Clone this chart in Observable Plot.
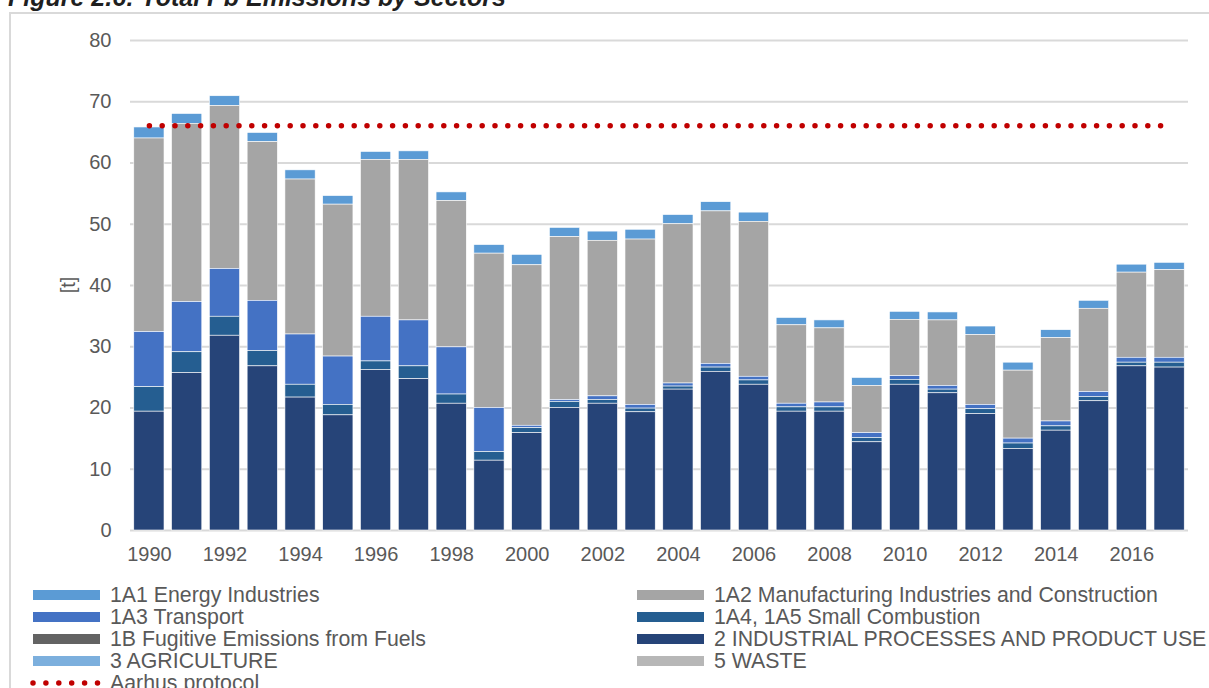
<!DOCTYPE html>
<html>
<head>
<meta charset="utf-8">
<script src="https://cdn.jsdelivr.net/npm/d3@7"></script>
<script src="https://cdn.jsdelivr.net/npm/@observablehq/plot@0.6"></script>
<style>
  html, body { margin: 0; padding: 0; background: #fff; overflow: hidden; }
  body { width: 1209px; height: 688px; position: relative; font-family: "Liberation Sans", Arial, sans-serif; }
  #title { position: absolute; left: 8px; top: -15px; font-size: 25px; font-weight: bold; font-style: italic; color: #1f1f1f; white-space: nowrap; line-height: 1; }
  #frame { position: absolute; left: 9px; top: 12px; width: 1300px; height: 800px; border-left: 2px solid #d9d9d9; border-top: 2px solid #d9d9d9; }
  #chart { position: absolute; left: 0; top: 0; }
  #ylabel { position: absolute; left: 68px; top: 285px; transform: translate(-50%, -50%) rotate(-90deg); font-size: 20px; color: #595959; }
  .leg { position: absolute; height: 22px; line-height: 22px; font-size: 21.3px; color: #595959; white-space: nowrap; }
  .sw { position: absolute; width: 67px; height: 10px; }
  .lt { position: absolute; }
</style>
</head>
<body>
<div id="title">Figure 2.6: Total Pb Emissions by Sectors</div>
<div id="frame"></div>
<div id="chart"></div>
<div id="ylabel">[t]</div>
<div id="legend"></div>
<script>
const years = [1990,1991,1992,1993,1994,1995,1996,1997,1998,1999,2000,2001,2002,2003,2004,2005,2006,2007,2008,2009,2010,2011,2012,2013,2014,2015,2016,2017];
const yTicks = [0,10,20,30,40,50,60,70,80];

const energyIndustries = [1.8,1.6,1.6,1.5,1.5,1.4,1.3,1.4,1.4,1.4,1.7,1.5,1.5,1.6,1.5,1.5,1.5,1.2,1.3,1.3,1.3,1.3,1.4,1.3,1.3,1.3,1.3,1.2];
const manufacturing = [31.6,29.1,26.6,25.9,25.3,24.8,25.6,26.2,23.9,25.2,26.2,26.6,25.4,27.0,26.0,24.9,25.3,12.8,12.1,7.7,9.2,10.7,11.4,11.1,13.6,13.6,13.9,14.3];
const transport = [9.0,8.2,7.8,8.2,8.2,7.9,7.3,7.5,7.7,7.2,0.4,0.3,0.6,0.6,0.5,0.6,0.6,0.6,0.8,0.8,0.6,0.6,0.7,0.8,0.8,0.8,0.8,0.8];
const smallCombustion = [4.0,3.4,3.1,2.5,2.1,1.7,1.4,2.1,1.5,1.4,0.8,1.0,0.6,0.6,0.5,0.7,0.7,0.7,0.7,0.7,0.8,0.6,0.8,0.9,0.7,0.7,0.6,0.8];
const fugitive = [0,0,0,0,0,0,0,0,0,0,0,0,0,0,0,0,0,0,0,0,0,0,0,0,0,0,0,0];
const industrialProcesses = [19.4,25.7,31.8,26.8,21.7,18.8,26.2,24.7,20.7,11.4,15.9,20.0,20.7,19.3,23.0,25.9,23.8,19.4,19.4,14.4,23.8,22.4,19.0,13.3,16.3,21.1,26.8,26.6];
const agriculture = [0,0,0,0,0,0,0,0,0,0,0,0,0,0,0,0,0,0,0,0,0,0,0,0,0,0,0,0];
const waste = [0,0,0,0,0,0,0,0,0,0,0,0,0,0,0,0,0,0,0,0,0,0,0,0,0,0,0,0];
const aarhusProtocol = 66.1;

const seriesNames = ["1A1 Energy Industries","1A2 Manufacturing Industries and Construction","1A3 Transport","1A4, 1A5 Small Combustion","1B Fugitive Emissions from Fuels","2 INDUSTRIAL PROCESSES AND PRODUCT USE","3 AGRICULTURE","5 WASTE"];
const seriesColors = ["#5b9bd5","#a5a5a5","#4472c4","#255e91","#636363","#264478","#7cafdd","#b7b7b7"];
const seriesValues = [energyIndustries, manufacturing, transport, smallCombustion, fugitive, industrialProcesses, agriculture, waste];
// bottom-to-top stacking order
const stackOrder = ["2 INDUSTRIAL PROCESSES AND PRODUCT USE","1B Fugitive Emissions from Fuels","1A4, 1A5 Small Combustion","1A3 Transport","1A2 Manufacturing Industries and Construction","1A1 Energy Industries","3 AGRICULTURE","5 WASTE"];

const rows = [];
seriesNames.forEach((name, s) => years.forEach((yr, i) => rows.push({year: yr, sector: name, value: seriesValues[s][i]})));
const aarhus = years.map(yr => ({year: yr, value: aarhusProtocol}));

const chart = Plot.plot({
  width: 1209,
  height: 570,
  marginLeft: 130,
  marginRight: 21,
  marginTop: 40,
  marginBottom: 40,
  style: {fontFamily: "'Liberation Sans', Arial, sans-serif", fontSize: "20px", color: "#595959", background: "transparent", overflow: "visible"},
  x: {type: "band", domain: years, round: false, paddingInner: 0.2, paddingOuter: 0.1, label: null, tickSize: 0, tickPadding: 16, tickFormat: d => d % 2 === 0 ? String(d) : ""},
  y: {domain: [0, 80], ticks: yTicks, label: null, tickSize: 0, tickPadding: 19},
  color: {domain: seriesNames, range: seriesColors},
  marks: [
    Plot.ruleY(yTicks, {stroke: "#d9d9d9", strokeWidth: 2}),
    Plot.barY(rows, {x: "year", y: "value", fill: "sector", order: stackOrder, stroke: "#ffffff", strokeWidth: 0.6}),
    Plot.lineY(aarhus, {x: "year", y: "value", stroke: "#c00000", strokeWidth: 5.5, strokeDasharray: "0 12.8", strokeLinecap: "round"})
  ]
});
document.getElementById("chart").appendChild(chart);

// legend
const legend = document.getElementById("legend");
const legendItems = [
  {name: seriesNames[0], col: 0, row: 0},
  {name: seriesNames[1], col: 1, row: 0},
  {name: seriesNames[2], col: 0, row: 1},
  {name: seriesNames[3], col: 1, row: 1},
  {name: seriesNames[4], col: 0, row: 2},
  {name: seriesNames[5], col: 1, row: 2},
  {name: seriesNames[6], col: 0, row: 3},
  {name: seriesNames[7], col: 1, row: 3}
];
const colX = [33, 637];
const rowY = [595, 617, 639, 661, 683];
legendItems.forEach(it => {
  const d = document.createElement("div");
  d.className = "leg";
  d.style.left = colX[it.col] + "px";
  d.style.top = (rowY[it.row] - 11) + "px";
  const sw = document.createElement("div");
  sw.className = "sw";
  sw.style.left = "0px";
  sw.style.top = "6px";
  sw.style.background = seriesColors[seriesNames.indexOf(it.name)];
  const t = document.createElement("span");
  t.className = "lt";
  t.style.left = "77px";
  t.textContent = it.name;
  d.appendChild(sw); d.appendChild(t);
  legend.appendChild(d);
});
// Aarhus legend entry
const a = document.createElement("div");
a.className = "leg";
a.style.left = "30px";
a.style.top = (rowY[4] - 11) + "px";
a.innerHTML = '<svg width="72" height="22" style="position:absolute;left:0;top:0"><line x1="3" y1="11" x2="68" y2="11" stroke="#c00000" stroke-width="5.5" stroke-dasharray="0 12.9" stroke-linecap="round"/></svg><span class="lt" style="left:80px">Aarhus protocol</span>';
legend.appendChild(a);
</script>
</body>
</html>
